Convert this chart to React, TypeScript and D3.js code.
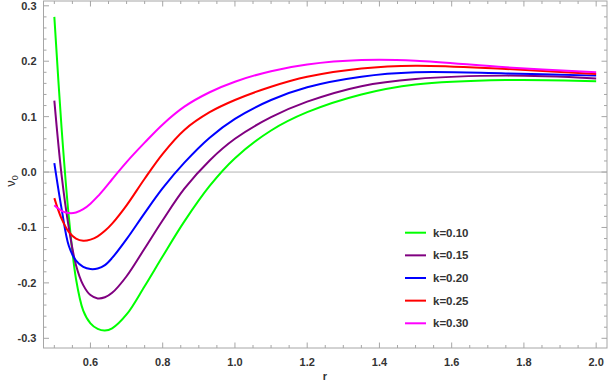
import React from "react";
import * as d3 from "d3";

const rValues = [0.50, 0.52, 0.54, 0.56, 0.58, 0.60, 0.62, 0.64, 0.66, 0.70, 0.75, 0.80, 0.86, 0.93, 1.00, 1.10, 1.20, 1.35, 1.50, 1.75, 2.00];

const k010 = [0.280, 0.080, -0.080, -0.193, -0.250, -0.273, -0.283, -0.286, -0.282, -0.257, -0.206, -0.152, -0.089, -0.025, 0.025, 0.075, 0.108, 0.140, 0.158, 0.166, 0.164];
const k015 = [0.129, -0.005, -0.100, -0.168, -0.204, -0.222, -0.228, -0.226, -0.218, -0.188, -0.138, -0.087, -0.030, 0.021, 0.060, 0.099, 0.127, 0.155, 0.168, 0.174, 0.169];
const k020 = [0.016, -0.066, -0.133, -0.160, -0.171, -0.175, -0.174, -0.168, -0.155, -0.121, -0.074, -0.029, 0.017, 0.062, 0.096, 0.130, 0.153, 0.172, 0.180, 0.178, 0.174];
const k025 = [-0.047, -0.084, -0.108, -0.120, -0.124, -0.122, -0.116, -0.106, -0.093, -0.060, -0.012, 0.033, 0.076, 0.108, 0.130, 0.154, 0.172, 0.187, 0.192, 0.186, 0.177];
const k030 = [-0.060, -0.070, -0.074, -0.073, -0.067, -0.057, -0.044, -0.029, -0.013, 0.018, 0.053, 0.086, 0.118, 0.144, 0.163, 0.182, 0.194, 0.202, 0.201, 0.189, 0.180];

const seriesLabels = ["k=0.10", "k=0.15", "k=0.20", "k=0.25", "k=0.30"];
const seriesValues = [k010, k015, k020, k025, k030];
const seriesColors = ["#00ff00", "#800080", "#0000ff", "#ff0000", "#ff00ff"];

const xMajorTicks = [0.6, 0.8, 1.0, 1.2, 1.4, 1.6, 1.8, 2.0];
const yMajorTicks = [-0.3, -0.2, -0.1, 0.0, 0.1, 0.2, 0.3];

const W = 608;
const H = 383;
const left = 43.5;
const right = 607;
const top = 1;
const bottom = 348;

export default function App() {
  const x = d3.scaleLinear().domain([0.47, 2.03]).range([left, right]);
  const y = d3.scaleLinear().domain([-0.3, 0.3]).range([338.3, 5.8]);

  const line = d3
    .line<[number, number]>()
    .x((d) => x(d[0]))
    .y((d) => y(d[1]))
    .curve(d3.curveCatmullRom.alpha(0.5));

  const xMinor = d3.range(0.5, 2.0001, 0.05).filter(
    (v) => !xMajorTicks.some((m) => Math.abs(m - v) < 1e-6)
  );
  const yMinor = d3.range(-0.3, 0.3001, 0.02).filter(
    (v) => !yMajorTicks.some((m) => Math.abs(m - v) < 1e-6)
  );

  const frameColor = "#a6a6a6";
  const textColor = "#333";
  const font = "'Liberation Sans', Arial, sans-serif";

  return (
    <svg
      width={W}
      height={H}
      style={{ position: "absolute", left: 0, top: 0, background: "#fff" }}
    >
      <rect x={0} y={0} width={W} height={H} fill="#fff" />
      {/* zero line */}
      <line x1={left} x2={right} y1={y(0)} y2={y(0)} stroke="#b3b3b3" strokeWidth={1} />

      {/* curves */}
      {seriesValues.map((vals, i) => (
        <path
          key={i}
          d={line(rValues.map((r, j) => [r, vals[j]] as [number, number])) || ""}
          fill="none"
          stroke={seriesColors[i]}
          strokeWidth={2}
        />
      ))}

      {/* frame */}
      <rect
        x={left}
        y={top}
        width={right - left}
        height={bottom - top}
        fill="none"
        stroke={frameColor}
        strokeWidth={1}
      />

      {/* x ticks */}
      {xMajorTicks.map((t) => (
        <g key={"xM" + t}>
          <line x1={x(t)} x2={x(t)} y1={bottom} y2={bottom - 5.5} stroke={frameColor} />
          <line x1={x(t)} x2={x(t)} y1={top} y2={top + 5.5} stroke={frameColor} />
          <text
            x={x(t)}
            y={365.5}
            textAnchor="middle"
            fontFamily={font}
            fontWeight="bold"
            fontSize={11}
            fill={textColor}
          >
            {t.toFixed(1)}
          </text>
        </g>
      ))}
      {xMinor.map((t) => (
        <g key={"xm" + t}>
          <line x1={x(t)} x2={x(t)} y1={bottom} y2={bottom - 3} stroke={frameColor} />
          <line x1={x(t)} x2={x(t)} y1={top} y2={top + 3} stroke={frameColor} />
        </g>
      ))}

      {/* y ticks */}
      {yMajorTicks.map((t) => (
        <g key={"yM" + t}>
          <line x1={left} x2={left + 5.5} y1={y(t)} y2={y(t)} stroke={frameColor} />
          <line x1={right} x2={right - 5.5} y1={y(t)} y2={y(t)} stroke={frameColor} />
          <text
            x={36.5}
            y={y(t) + 4}
            textAnchor="end"
            fontFamily={font}
            fontWeight="bold"
            fontSize={11}
            fill={textColor}
          >
            {t.toFixed(1)}
          </text>
        </g>
      ))}
      {yMinor.map((t) => (
        <g key={"ym" + t}>
          <line x1={left} x2={left + 3} y1={y(t)} y2={y(t)} stroke={frameColor} />
          <line x1={right} x2={right - 3} y1={y(t)} y2={y(t)} stroke={frameColor} />
        </g>
      ))}

      {/* axis labels */}
      <text
        x={325}
        y={380}
        textAnchor="middle"
        fontFamily={font}
        fontWeight="bold"
        fontSize={11}
        fill={textColor}
      >
        r
      </text>
      <text
        transform={`translate(15, 181) rotate(-90)`}
        textAnchor="middle"
        fontFamily={font}
        fontSize={13}
        fill={textColor}
      >
        ν
        <tspan fontSize={9} dy={3}>
          0
        </tspan>
      </text>

      {/* legend */}
      {seriesLabels.map((lab, i) => (
        <g key={lab} transform={`translate(0, ${232.7 + i * 22.65})`}>
          <line x1={405} x2={426} y1={0} y2={0} stroke={seriesColors[i]} strokeWidth={2} />
          <text
            x={433}
            y={4}
            fontFamily={font}
            fontWeight="bold"
            fontSize={11.5}
            fill={textColor}
          >
            {lab}
          </text>
        </g>
      ))}
    </svg>
  );
}
